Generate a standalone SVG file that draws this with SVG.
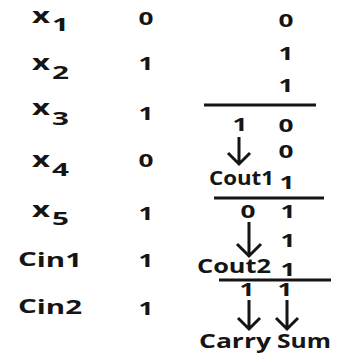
<svg xmlns="http://www.w3.org/2000/svg" width="348" height="353" viewBox="0 0 348 353">
<defs>
<style>
text{font-family:"Open Sans","DejaVu Sans",sans-serif;font-weight:bold;fill:#151515}
.d{font-size:17px;text-anchor:middle}
.x{font-size:22px}
.s{font-size:17px}
.w{font-size:20px}
.c{stroke:#151515;stroke-width:3;fill:none;stroke-linecap:butt;stroke-linejoin:miter}
</style>
</defs>
<rect width="348" height="353" fill="#ffffff"/>
<g id="labels">
<g id="x1"><text x="32" y="23" class="x" textLength="18" lengthAdjust="spacingAndGlyphs">x</text><text x="52" y="31" class="s" textLength="17" lengthAdjust="spacingAndGlyphs">1</text></g>
<g id="x2"><text x="32" y="70" class="x" textLength="18" lengthAdjust="spacingAndGlyphs">x</text><text x="52" y="79" class="s" textLength="17" lengthAdjust="spacingAndGlyphs">2</text></g>
<g id="x3"><text x="32" y="115" class="x" textLength="18" lengthAdjust="spacingAndGlyphs">x</text><text x="52" y="125" class="s" textLength="17" lengthAdjust="spacingAndGlyphs">3</text></g>
<g id="x4"><text x="32" y="167" class="x" textLength="18" lengthAdjust="spacingAndGlyphs">x</text><text x="52" y="176" class="s" textLength="17" lengthAdjust="spacingAndGlyphs">4</text></g>
<g id="x5"><text x="32" y="217" class="x" textLength="18" lengthAdjust="spacingAndGlyphs">x</text><text x="52" y="225" class="s" textLength="17" lengthAdjust="spacingAndGlyphs">5</text></g>
<g id="cin1"><text x="18" y="266" class="w" textLength="64" lengthAdjust="spacingAndGlyphs">C<tspan dy="1">in1</tspan></text></g>
<g id="cin2"><text x="18" y="313" class="w" textLength="64" lengthAdjust="spacingAndGlyphs">C<tspan dy="1">in2</tspan></text></g>
</g>
<g id="values">
<text x="146" y="25" class="d" textLength="15" lengthAdjust="spacingAndGlyphs">0</text>
<text x="146" y="70" class="d" textLength="15" lengthAdjust="spacingAndGlyphs">1</text>
<text x="146" y="120" class="d" textLength="15" lengthAdjust="spacingAndGlyphs">1</text>
<text x="146" y="167" class="d" textLength="15" lengthAdjust="spacingAndGlyphs">0</text>
<text x="146" y="220" class="d" textLength="15" lengthAdjust="spacingAndGlyphs">1</text>
<text x="146" y="267" class="d" textLength="15" lengthAdjust="spacingAndGlyphs">1</text>
<text x="146" y="315" class="d" textLength="15" lengthAdjust="spacingAndGlyphs">1</text>
</g>
<g id="sum1">
<text x="286" y="27" class="d" textLength="15" lengthAdjust="spacingAndGlyphs">0</text>
<text x="286" y="60" class="d" textLength="15" lengthAdjust="spacingAndGlyphs">1</text>
<text x="286" y="92" class="d" textLength="15" lengthAdjust="spacingAndGlyphs">1</text>
<text x="240" y="131" class="d" textLength="15" lengthAdjust="spacingAndGlyphs">1</text>
<text x="286" y="132" class="d" textLength="15" lengthAdjust="spacingAndGlyphs">0</text>
<text x="286" y="158" class="d" textLength="15" lengthAdjust="spacingAndGlyphs">0</text>
<text x="209" y="185" class="w" textLength="65" lengthAdjust="spacingAndGlyphs">Cout1</text>
<text x="287" y="189" class="d" textLength="15" lengthAdjust="spacingAndGlyphs">1</text>
</g>
<g id="sum2">
<text x="248" y="218" class="d" textLength="15" lengthAdjust="spacingAndGlyphs">0</text>
<text x="288" y="218" class="d" textLength="15" lengthAdjust="spacingAndGlyphs">1</text>
<text x="288" y="247" class="d" textLength="15" lengthAdjust="spacingAndGlyphs">1</text>
<text x="197" y="273" class="w" textLength="74" lengthAdjust="spacingAndGlyphs">Cout2</text>
<text x="288" y="276" class="d" textLength="15" lengthAdjust="spacingAndGlyphs">1</text>
</g>
<g id="result">
<text x="247" y="296" class="d" textLength="15" lengthAdjust="spacingAndGlyphs">1</text>
<text x="285" y="296" class="d" textLength="15" lengthAdjust="spacingAndGlyphs">1</text>
<text x="199" y="348" class="w" font-size="19" textLength="72" lengthAdjust="spacingAndGlyphs">Carry</text>
<text x="277" y="348" class="w" font-size="19" textLength="54" lengthAdjust="spacingAndGlyphs">Sum</text>
</g>
<g id="connectors">
<line class="c" x1="204" y1="105" x2="316" y2="105"/>
<line class="c" x1="214" y1="198" x2="324" y2="198"/>
<line class="c" x1="219" y1="280" x2="331" y2="280"/>
<path class="c" d="M239 137 V163 M228 153 L239 164 L250 153"/>
<path class="c" d="M249 222 V255 M237 244 L249 256 L261 244"/>
<path class="c" d="M249 300 V328 M238 318 L249 329 L260 318"/>
<path class="c" d="M287 300 V328 M276 318 L287 329 L298 318"/>
</g>
</svg>
